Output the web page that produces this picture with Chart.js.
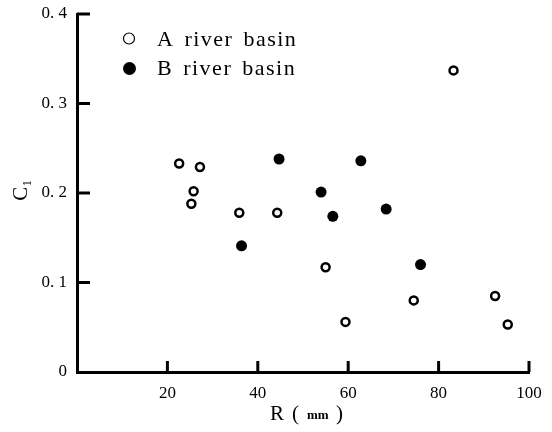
<!DOCTYPE html>
<html>
<head>
<meta charset="utf-8">
<script src="https://cdn.jsdelivr.net/npm/chart.js@4/dist/chart.umd.min.js"></script>
<style>
  html, body { margin: 0; padding: 0; background: #fff; }
  #wrap { width: 552px; height: 432px; }
</style>
</head>
<body>
<div id="wrap"><canvas id="scatter"></canvas></div>
<script>
const serif = '"Liberation Serif", "DejaVu Serif", serif';

// rainfall R (mm) against C1, two basins
const basinA_R  = [22.6, 27.2, 25.8, 25.3, 35.9, 44.3, 55.0, 59.4, 74.5, 92.5, 95.3, 83.3];
const basinA_C1 = [0.233, 0.229, 0.202, 0.188, 0.178, 0.178, 0.117, 0.056, 0.080, 0.085, 0.053, 0.337];
const basinB_R  = [36.4, 44.7, 54.0, 56.6, 62.8, 68.4, 76.0];
const basinB_C1 = [0.141, 0.238, 0.201, 0.174, 0.236, 0.182, 0.120];

const seriesNames = ['A river basin', 'B river basin'];
const xTicks = [20, 40, 60, 80, 100];
const yTicks = [0, 0.1, 0.2, 0.3, 0.4];
const yTickLabels = ['0', '0. 1', '0. 2', '0. 3', '0. 4'];

const toPoints = (xs, ys) => xs.map((x, i) => ({ x: x, y: ys[i] }));

// little inward ticks, legend and axis titles
const decorations = {
  id: 'decorations',
  afterDraw(chart) {
    const ctx = chart.ctx;
    const xs = chart.scales.x, ys = chart.scales.y;
    const area = chart.chartArea;
    ctx.save();
    ctx.strokeStyle = '#000';
    ctx.lineWidth = 3;
    xTicks.forEach(v => {
      const px = xs.getPixelForValue(v);
      ctx.beginPath();
      ctx.moveTo(px, area.bottom);
      ctx.lineTo(px, area.bottom - 11);
      ctx.stroke();
    });
    yTicks.slice(1).forEach(v => {
      const py = ys.getPixelForValue(v);
      ctx.beginPath();
      ctx.moveTo(area.left, py);
      ctx.lineTo(area.left + 13, py);
      ctx.stroke();
    });

    // legend
    ctx.lineWidth = 1.2;
    ctx.beginPath();
    ctx.arc(129, 38.5, 5.5, 0, Math.PI * 2);
    ctx.stroke();
    ctx.fillStyle = '#000';
    ctx.beginPath();
    ctx.arc(129.5, 68.5, 6.5, 0, Math.PI * 2);
    ctx.fill();
    ctx.font = '22px ' + serif;
    ctx.letterSpacing = '1.5px';
    ctx.wordSpacing = '3px';
    ctx.textBaseline = 'middle';
    ctx.textAlign = 'left';
    ctx.fillText(seriesNames[0], 157, 40);
    ctx.fillText(seriesNames[1], 157, 69.5);

    // x title: R ( mm )
    ctx.letterSpacing = '0px';
    ctx.wordSpacing = '0px';
    ctx.font = '21px ' + serif;
    ctx.fillText('R', 270, 414);
    ctx.fillText('(', 292, 414);
    ctx.font = 'bold 13px ' + serif;
    ctx.fillText('mm', 307, 416);
    ctx.font = '21px ' + serif;
    ctx.fillText(')', 336, 414);

    // y title: C1
    ctx.translate(21, 190);
    ctx.rotate(-Math.PI / 2);
    ctx.textAlign = 'center';
    ctx.font = '21px ' + serif;
    ctx.fillText('C\u2081', 0, 0);
    ctx.restore();
  }
};

const axisFont = { family: serif, size: 17 };

// keep the plot box where layout.padding puts it
const noLabelPadding = s => {
  s.paddingTop = 0; s.paddingBottom = 0;
  s.paddingLeft = 0; s.paddingRight = 0;
};

new Chart(document.getElementById('scatter'), {
  type: 'scatter',
  data: {
    datasets: [
      {
        label: seriesNames[0],
        data: toPoints(basinA_R, basinA_C1),
        pointStyle: 'circle',
        pointRadius: 4,
        pointHoverRadius: 4,
        pointBorderWidth: 2.5,
        borderColor: '#000',
        backgroundColor: '#fff'
      },
      {
        label: seriesNames[1],
        data: toPoints(basinB_R, basinB_C1),
        pointStyle: 'circle',
        pointRadius: 5.5,
        pointHoverRadius: 5.5,
        pointBorderWidth: 0,
        borderColor: '#000',
        backgroundColor: '#000'
      }
    ]
  },
  options: {
    responsive: true,
    maintainAspectRatio: false,
    animation: false,
    events: [],
    layout: { padding: { left: 0, right: 23, top: 14, bottom: 0 } },
    plugins: { legend: { display: false }, tooltip: { enabled: false } },
    scales: {
      x: {
        type: 'linear',
        min: 0,
        max: 100,
        afterBuildTicks: s => { s.ticks = xTicks.map(v => ({ value: v })); },
        afterFit: s => { s.height = 60; noLabelPadding(s); },
        ticks: { font: axisFont, color: '#000', padding: 11, maxRotation: 0 },
        grid: { drawOnChartArea: false, drawTicks: false },
        border: { display: true, color: '#000', width: 3 }
      },
      y: {
        type: 'linear',
        min: 0,
        max: 0.4,
        afterBuildTicks: s => { s.ticks = yTicks.map(v => ({ value: v })); },
        afterFit: s => { s.width = 77; noLabelPadding(s); },
        ticks: {
          font: axisFont,
          color: '#000',
          padding: 10,
          callback: (v) => yTickLabels[yTicks.indexOf(Math.round(v * 10) / 10)]
        },
        grid: { drawOnChartArea: false, drawTicks: false },
        border: { display: true, color: '#000', width: 3 }
      }
    }
  },
  plugins: [decorations]
});
</script>
</body>
</html>
